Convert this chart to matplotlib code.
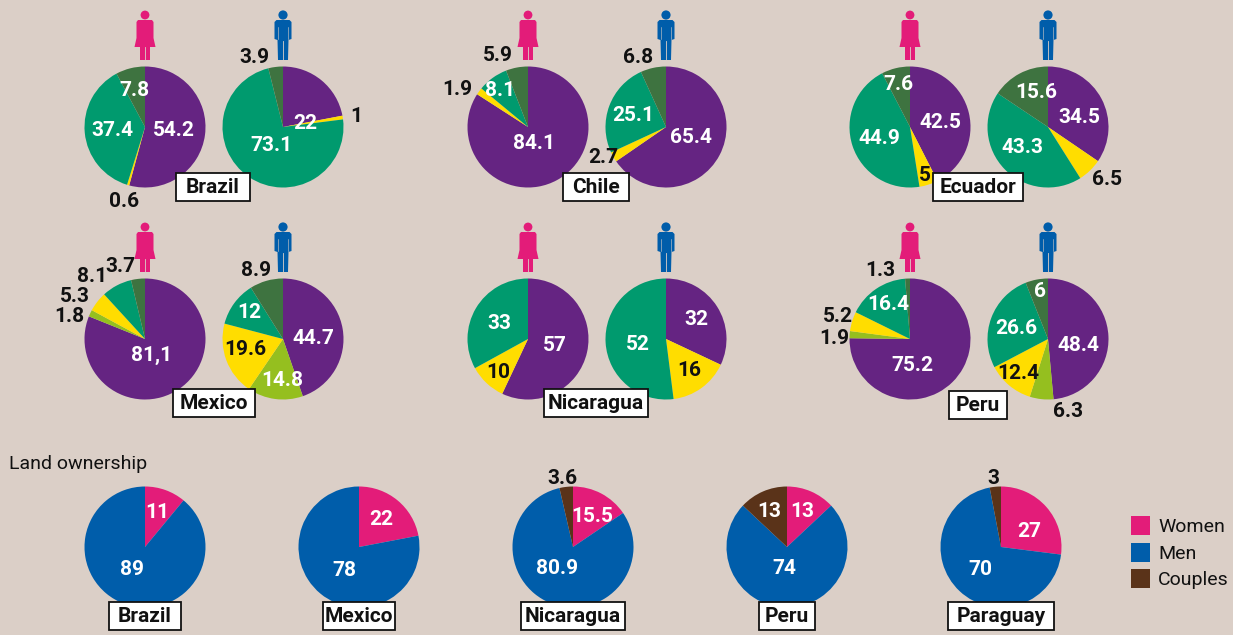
import matplotlib
matplotlib.use('Agg')
import matplotlib.pyplot as plt
from matplotlib.patches import Rectangle, Circle, Polygon

plt.rcParams['font.family'] = ['Roboto', 'Liberation Sans', 'DejaVu Sans']

BG = '#DBCFC7'
PURPLE = '#652482'
OLIVE = '#95BF1F'
YELLOW = '#FFDD00'
GREEN = '#009A6E'
DARK = '#3E7340'
PINK = '#E31C79'
BLUE = '#005DAA'
BROWN = '#5A3319'
WHITE = 'white'
BLACK = '#111111'

# top rows, slices clockwise: purple, olive, yellow, green, dark green
brazil_women = [54.2, 0, 0.6, 37.4, 7.8]
brazil_men = [22, 0, 1, 73.1, 3.9]
chile_women = [84.1, 0, 1.9, 8.1, 5.9]
chile_men = [65.4, 0, 2.7, 25.1, 6.8]
ecuador_women = [42.5, 0, 5, 44.9, 7.6]
ecuador_men = [34.5, 0, 6.5, 43.3, 15.6]
mexico_women = [81.1, 1.8, 5.3, 8.1, 3.7]
mexico_men = [44.7, 14.8, 19.6, 12, 8.9]
nicaragua_women = [57, 0, 10, 33, 0]
nicaragua_men = [32, 0, 16, 52, 0]
peru_women = [75.2, 1.9, 5.2, 16.4, 1.3]
peru_men = [48.4, 6.3, 12.4, 26.6, 6]
use_colors = [PURPLE, OLIVE, YELLOW, GREEN, DARK]

# land ownership: women, men, couples
land_names = ['Brazil', 'Mexico', 'Nicaragua', 'Peru', 'Paraguay']
land_women = [11, 22, 15.5, 13, 27]
land_men = [89, 78, 80.9, 74, 70]
land_couples = [0, 0, 3.6, 13, 3]
land_colors = [PINK, BLUE, BROWN]

# pie centre x, y in pixels of the picture
use_pies = [
    (brazil_women, 145, 127), (brazil_men, 283, 127),
    (chile_women, 528, 127), (chile_men, 666, 127),
    (ecuador_women, 910, 127), (ecuador_men, 1048, 127),
    (mexico_women, 145, 339), (mexico_men, 283, 339),
    (nicaragua_women, 528, 339), (nicaragua_men, 666, 339),
    (peru_women, 910, 339), (peru_men, 1048, 339),
]
land_x = [145, 359, 573, 787, 1001]
RADIUS = 60.5

# text, x, y, colour
labels = [
    ('54.2', 174, 129, WHITE), ('37.4', 112, 129, WHITE), ('7.8', 134, 89, WHITE), ('0.6', 124, 200, BLACK),
    ('22', 305, 122, WHITE), ('1', 356, 115, BLACK), ('73.1', 271, 144, WHITE), ('3.9', 254, 56, BLACK),
    ('84.1', 534, 142, WHITE), ('1.9', 457, 88, BLACK), ('8.1', 500, 89, WHITE), ('5.9', 498, 54, BLACK),
    ('65.4', 691, 136, WHITE), ('2.7', 603, 156, BLACK), ('25.1', 633, 114, WHITE), ('6.8', 638, 56, BLACK),
    ('42.5', 940, 121, WHITE), ('5', 925, 174, BLACK), ('44.9', 879, 137, WHITE), ('7.6', 898, 83, WHITE),
    ('34.5', 1079, 116, WHITE), ('6.5', 1107, 178, BLACK), ('43.3', 1022, 146, WHITE), ('15.6', 1036, 91, WHITE),
    ('81,1', 152, 354, WHITE), ('1.8', 69, 315, BLACK), ('5.3', 75, 295, BLACK), ('8.1', 92, 275, BLACK), ('3.7', 120, 265, BLACK),
    ('44.7', 313, 337, WHITE), ('14.8', 282, 379, WHITE), ('19.6', 245, 348, BLACK), ('12', 249, 311, WHITE), ('8.9', 256, 269, BLACK),
    ('57', 555, 344, WHITE), ('10', 498, 371, BLACK), ('33', 499, 322, WHITE),
    ('32', 696, 318, WHITE), ('16', 689, 369, BLACK), ('52', 638, 343, WHITE),
    ('75.2', 912, 364, WHITE), ('1.9', 834, 337, BLACK), ('5.2', 838, 315, BLACK), ('16.4', 888, 303, WHITE), ('1.3', 880, 269, BLACK),
    ('48.4', 1078, 344, WHITE), ('6.3', 1068, 410, BLACK), ('12.4', 1018, 372, BLACK), ('26.6', 1016, 327, WHITE), ('6', 1040, 290, WHITE),
    ('11', 157, 511, WHITE), ('89', 132, 568, WHITE),
    ('22', 381, 518, WHITE), ('78', 344, 569, WHITE),
    ('15.5', 592, 515, WHITE), ('80.9', 557, 567, WHITE), ('3.6', 562, 477, BLACK),
    ('13', 769, 510, WHITE), ('13', 802, 510, WHITE), ('74', 784, 567, WHITE),
    ('27', 1029, 530, WHITE), ('70', 980, 568, WHITE), ('3', 993, 477, BLACK),
]

# name, centre x, centre y, width
name_boxes = [
    ('Brazil', 213, 187, 74), ('Chile', 596, 187, 66), ('Ecuador', 978, 187, 90),
    ('Mexico', 214, 403, 82), ('Nicaragua', 596, 403, 104), ('Peru', 978, 405, 58),
    ('Brazil', 145, 616, 72), ('Mexico', 359, 616, 72), ('Nicaragua', 573, 616, 104),
    ('Peru', 787, 616, 56), ('Paraguay', 1001, 616, 106),
]

icon_x = [(145, 283), (528, 666), (910, 1048)]
icon_y = [10, 222]


def Y(py):
    return 635 - py


def draw_woman(ax, x, top):
    ax.add_patch(Circle((x, Y(top + 5)), 4.4, fc=PINK, ec='none', zorder=5))
    body = [(-7, 10), (7, 10), (8.5, 12), (8.5, 28), (10.5, 37), (5, 37), (5, 50), (-5, 50), (-5, 37), (-10.5, 37), (-8.5, 28), (-8.5, 12)]
    ax.add_patch(Polygon([(x + a, Y(top + b)) for a, b in body], fc=PINK, ec='none', zorder=5))
    ax.plot([x, x], [Y(top + 37), Y(top + 50)], color=BG, lw=0.6, zorder=6)


def draw_man(ax, x, top):
    ax.add_patch(Circle((x, Y(top + 5)), 4.6, fc=BLUE, ec='none', zorder=5))
    body = [(-6.5, 10), (6.5, 10), (8.5, 12), (8.5, 29), (5.5, 30), (5, 50), (-5, 50), (-5.5, 30), (-8.5, 29), (-8.5, 12)]
    ax.add_patch(Polygon([(x + a, Y(top + b)) for a, b in body], fc=BLUE, ec='none', zorder=5))
    ax.plot([x, x], [Y(top + 31), Y(top + 50)], color=BG, lw=0.6, zorder=6)
    for s in (-1, 1):
        ax.plot([x + s * 5.2, x + s * 5.2], [Y(top + 17), Y(top + 29)], color=BG, lw=0.4, zorder=6)


fig = plt.figure(figsize=(12.33, 6.35), dpi=100, facecolor=BG)
ax = fig.add_axes([0, 0, 1, 1])
ax.set_facecolor(BG)

wedge_style = {'linewidth': 0}
for values, cx, cy in use_pies:
    ax.pie(values, colors=use_colors, center=(cx, Y(cy)), radius=RADIUS, startangle=90,
           counterclock=False, wedgeprops=wedge_style)

for i in range(len(land_names)):
    ax.pie([land_women[i], land_men[i], land_couples[i]], colors=land_colors,
           center=(land_x[i], Y(547)), radius=RADIUS, startangle=90,
           counterclock=False, wedgeprops=wedge_style)

ax.set_xlim(0, 1233)
ax.set_ylim(0, 635)
ax.set_aspect('equal')
ax.axis('off')

for top in icon_y:
    for xw, xm in icon_x:
        draw_woman(ax, xw, top)
        draw_man(ax, xm, top)

for text, x, y, color in labels:
    ax.text(x, Y(y - 0.5), text, color=color, fontsize=15, fontweight='bold', ha='center', va='center_baseline', zorder=7)

for name, x, y, w in name_boxes:
    ax.add_patch(Rectangle((x - w / 2, Y(y) - 14), w, 28, fc='white', ec=BLACK, lw=1.3, zorder=8))
    ax.text(x, Y(y + 0.5), name, color=BLACK, fontsize=15, fontweight='bold', ha='center', va='center', zorder=9)

ax.text(9, Y(462), 'Land ownership', color=BLACK, fontsize=14, ha='left', va='center_baseline')

# legend
for name, color, y in [('Women', PINK, 525), ('Men', BLUE, 552), ('Couples', BROWN, 578)]:
    ax.add_patch(Rectangle((1131, Y(y) - 9.5), 19, 19, fc=color, ec='none'))
    ax.text(1158, Y(y), name, color=BLACK, fontsize=14, ha='left', va='center_baseline')

fig.savefig('out.png', dpi=100, facecolor=BG)
